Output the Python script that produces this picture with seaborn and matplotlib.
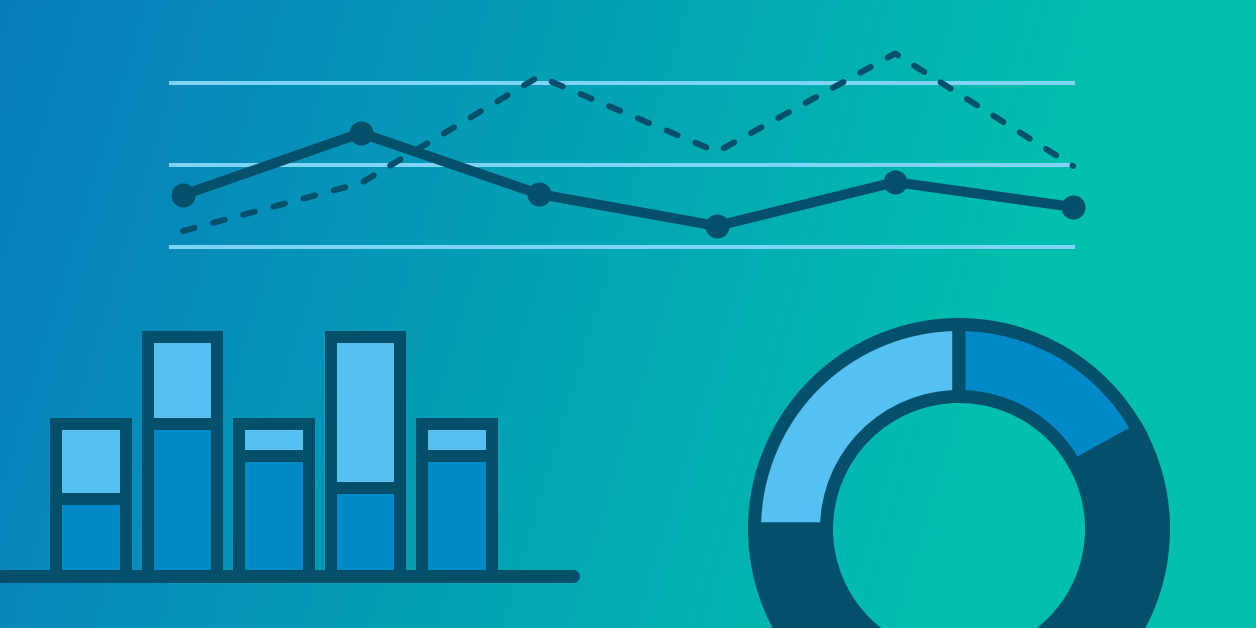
import numpy as np
import pandas as pd
import matplotlib
matplotlib.use("Agg")
import matplotlib.pyplot as plt
import seaborn as sns

# line chart values (gridlines at 0, 50, 100)
line_x = [0, 1, 2, 3, 4, 5]
solid_vals = [31.7, 69.5, 32.3, 12.8, 39.6, 24.4]
dashed_vals = [9.8, 39.0, 104.0, 58.0, 118.0, 49.4]
grid_levels = [0, 50, 100]

# stacked bars
bar_cats = ["A", "B", "C", "D", "E"]
bar_lower = [77, 152, 120, 88, 120]
bar_upper = [75, 87, 32, 151, 32]

# donut shares (light, dark, blue) starting at 12 o'clock, counter clockwise
donut_vals = [25, 58, 17]

DARK = "#04506b"
LIGHT = "#55c1f3"
MID = "#0089c8"
GRID = "#7fd4f5"

W, H = 1256, 628
PT = 72 / 100  # points per pixel at dpi 100


def px_axes(fig, x0, y0, x1, y1):
    # pixel box (top-left origin) -> figure axes
    ax = fig.add_axes([x0 / W, (H - y1) / H, (x1 - x0) / W, (y1 - y0) / H])
    ax.set_axis_off()
    ax.patch.set_alpha(0)
    return ax


sns.set_theme(style="white")
fig = plt.figure(figsize=(W / 100, H / 100), dpi=100)

# background gradient
bg = fig.add_axes([0, 0, 1, 1])
bg.set_axis_off()
xx, yy = np.meshgrid(np.arange(W), np.arange(H))
t = np.clip((xx + 0.3 * yy) / 1100.0, 0, 1)
c0 = np.array([10, 124, 191]) / 255.0
c1 = np.array([0, 191, 173]) / 255.0
img = c0[None, None, :] * (1 - t[..., None]) + c1[None, None, :] * t[..., None]
bg.imshow(img, extent=[0, W, H, 0], aspect="auto")
bg.set_xlim(0, W)
bg.set_ylim(H, 0)

# ---- line chart ----
ax1 = px_axes(fig, 160, 40, 1090, 260)
for g in grid_levels:
    ax1.hlines(g, -0.079, 5.011, color=GRID, lw=4 * PT, zorder=1)
line_df = pd.DataFrame({"x": line_x, "solid": solid_vals, "dashed": dashed_vals})
sns.lineplot(data=line_df, x="x", y="dashed", ax=ax1, color=DARK, lw=6 * PT,
             linestyle=(0, (2.0, 3.2)), dash_capstyle="round", zorder=2)
sns.lineplot(data=line_df, x="x", y="solid", ax=ax1, color=DARK, lw=10 * PT,
             marker="o", markersize=24 * PT, markeredgewidth=0, zorder=3)
ax1.set_xlim((160 - 183) / 178, (1090 - 183) / 178)
ax1.set_ylim((247 - 260) / 1.64, (247 - 40) / 1.64)
ax1.set_axis_off()

# ---- stacked bars ----
ax2 = px_axes(fig, 0, 310, 580, 600)
bar_df = pd.DataFrame({"cat": bar_cats, "lower": bar_lower,
                       "total": [a + b for a, b in zip(bar_lower, bar_upper)]})
sns.barplot(data=bar_df, x="cat", y="total", ax=ax2, color=LIGHT, saturation=1,
            width=0.765, edgecolor=DARK, linewidth=12 * PT, errorbar=None)
sns.barplot(data=bar_df, x="cat", y="lower", ax=ax2, color=MID, saturation=1,
            width=0.765, edgecolor=DARK, linewidth=12 * PT, errorbar=None)
for p in ax2.patches:
    p.set_joinstyle("miter")
    p.set_clip_on(False)
ax2.axhline(0, xmin=0, xmax=573 / 580, color=DARK, lw=13 * PT,
            solid_capstyle="round", clip_on=False, zorder=5)
ax2.set_xlim(-91 / 91.5, (580 - 91) / 91.5)
ax2.set_ylim(576 - 600, 576 - 310)
ax2.set_axis_off()

# ---- donut ----
cx, cy, half = 959, 529, 220
ax3 = px_axes(fig, cx - half, cy - half, cx + half, cy + half)
wedges, _ = ax3.pie(donut_vals, colors=[LIGHT, DARK, MID], startangle=90,
                    counterclock=True, radius=204.5,
                    wedgeprops=dict(width=72, edgecolor=DARK, linewidth=13 * PT,
                                    joinstyle="miter"))
for w in wedges:
    w.set_clip_on(False)
ax3.set_xlim(-half, half)
ax3.set_ylim(-half, half)
ax3.set_axis_off()

fig.savefig("out.png", dpi=100)
